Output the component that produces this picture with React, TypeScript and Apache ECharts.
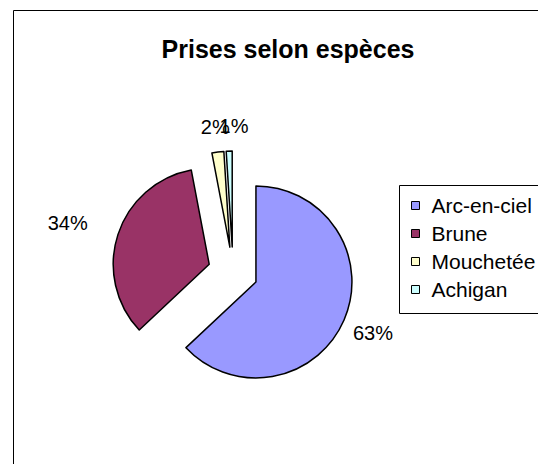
import React, { useEffect, useRef } from "react";
import * as echarts from "echarts";

const categories = ["Arc-en-ciel", "Brune", "Mouchetée", "Achigan"];
const values = [63, 34, 2, 1];
const colors = ["#9999FF", "#993366", "#FFFFCC", "#CCFFFF"];
const titleText = "Prises selon espèces";
// per-slice label tuning (radial length, distance)
const labelLen = [32, 37, 25, 25];
const labelDist = [-20.5, -5, -15, -20];

export default function App() {
  const ref = useRef<HTMLDivElement>(null);
  useEffect(() => {
    if (!ref.current) return;
    const chart = echarts.init(ref.current, undefined, { renderer: "svg" });
    const font = "Liberation Sans";
    chart.setOption({
      animation: false,
      backgroundColor: "#ffffff",
      title: {
        text: titleText,
        left: 283,
        top: 31,
        textAlign: "center",
        textStyle: { fontFamily: font, fontSize: 25, fontWeight: "bold", color: "#000" },
      },
      graphic: [
        {
          type: "rect",
          shape: { x: 13.5, y: 10.5, width: 640, height: 600 },
          style: { fill: "none", stroke: "#000", lineWidth: 1 },
          silent: true,
          z: -1,
        },
        {
          type: "rect",
          shape: { x: 399.5, y: 185.5, width: 200, height: 128 },
          style: { fill: "#fff", stroke: "#000", lineWidth: 1 },
          silent: true,
          z: 0,
        },
      ],
      legend: {
        orient: "vertical",
        left: 399,
        top: 185,
        z: 10,
        padding: [10, 0, 14, 12],
        itemGap: 7,
        itemWidth: 8,
        itemHeight: 8,
        icon: "rect",
        itemStyle: { borderColor: "#000", borderWidth: 1 },
        textStyle: { fontFamily: font, fontSize: 21, color: "#000", padding: [0, 0, 0, 7] },
        selectedMode: false,
        data: categories,
      },
      series: [
        {
          type: "pie",
          center: [233, 272],
          radius: [0, 96],
          startAngle: 90,
          clockwise: true,
          selectedMode: "multiple",
          selectedOffset: 25,
          avoidLabelOverlap: false,
          labelLayout: { hideOverlap: false },
          percentPrecision: 0,
          itemStyle: { borderColor: "#000", borderWidth: 1.5 },
          emphasis: { disabled: true },
          label: {
            show: true,
            position: "outside",
            fontFamily: font,
            fontSize: 20,
            color: "#000",
            distanceToLabelLine: 0,
            formatter: (p: any) => Math.round(p.percent) + "%",
          },
          labelLine: { show: false, length: 25, length2: 0 },
          data: categories.map((name, i) => ({
            name,
            value: values[i],
            selected: true,
            itemStyle: { color: colors[i] },
            label: { distanceToLabelLine: labelDist[i] },
            labelLine: { show: false, length: labelLen[i], length2: 0 },
          })),
        },
      ],
    });
    return () => chart.dispose();
  }, []);
  return <div ref={ref} style={{ position: "fixed", left: 0, top: 0, width: 600, height: 464 }} />;
}
